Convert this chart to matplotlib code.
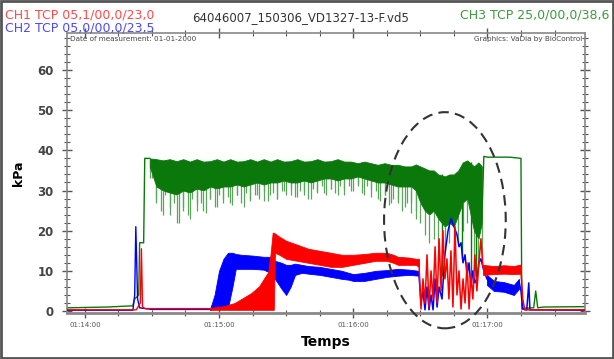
"""
Pressure record CH1/CH2/CH3 (kPa) vs time - recreation
"""

# ----------------------------------------------------------------------------------------------------------------------
# libraries
import matplotlib
matplotlib.use('Agg')
import matplotlib.pyplot as plt
from matplotlib.patches import Ellipse, Rectangle
from matplotlib.ticker import MultipleLocator, FuncFormatter
# ----------------------------------------------------------------------------------------------------------------------

# ----------------------------------------------------------------------------------------------------------------------
# data (time in seconds after 01:14:00, pressure in kPa)
title_text = '64046007_150306_VD1327-13-F.vd5'
ch_labels = ['CH1 TCP 05,1/00,0/23,0', 'CH2 TCP 05,0/00,0/23,5', 'CH3 TCP 25,0/00,0/38,6']

# CH3 (green) clean parts
green_t = [-8, 10, 21.4, 22.3, 24.1, 24.5, 26.3, 26.8, 29]
green_v = [0.8, 1.0, 1.3, 3, 4, 17, 17, 38, 38]
green_tail_t = [177.5, 178.4, 180, 190, 195, 195.4, 196, 200.7, 201.6, 202.5, 205, 223.7]
green_tail_v = [22, 38.5, 38.3, 38.3, 38, 0.5, 0.7, 0.8, 5, 0.8, 1.0, 1.1]
# CH3 noisy band envelope (dense core)
green_band_t = [29, 32, 35, 38, 41, 44, 47, 50, 53, 56,
                59, 62, 65, 68, 71, 74, 77, 80, 83, 86,
                89, 92, 95, 98, 101, 104, 107, 110, 113, 116,
                119, 122, 125, 128, 131, 134, 137, 140, 143, 146,
                148, 150, 152, 154, 156, 158, 161, 163, 165, 167,
                169, 171, 174, 176, 177.5]
green_band_hi = [38, 37.8, 37.5, 37.8, 37.3, 37.8, 37.2, 37.8, 37.2, 37.3,
                 37.8, 37.2, 37.8, 37.2, 37.3, 37.8, 37.2, 37.8, 37.2, 37.8,
                 37.2, 37.3, 37.8, 37.2, 37.3, 37.8, 37.2, 37.3, 37.8, 37.2,
                 37.2, 36.8, 37.2, 36.8, 36.4, 36.8, 36.4, 36.4, 36, 36,
                 36.5, 36, 35.5, 35, 35, 34, 33.5, 34, 34, 35,
                 37, 37.5, 36, 37, 36]
green_band_core = [36, 31, 30, 29.5, 29, 30, 29.5, 30.5, 30, 31,
                   30.5, 31, 31, 31.5, 31, 31.5, 32, 31.5, 32, 32,
                   32.5, 32, 32, 32.5, 32, 32.5, 33, 33, 32.5, 33,
                   33, 33.5, 33, 32.5, 32, 32, 31.5, 31, 31, 31,
                   30, 27, 25, 24, 25, 23, 21, 22, 21, 24,
                   27, 28, 20, 18, 22]
green_band_low = [33, 27, 24, 26, 22, 25, 23, 27, 25, 28,
                  26, 28, 27, 29, 26, 28, 29, 27.5, 29, 28,
                  30, 29, 28.5, 30, 28, 30, 29.5, 30.5, 29, 30.5,
                  30, 31, 29, 30.5, 28, 29, 27, 28, 26, 27,
                  25, 22, 19, 17, 18, 16, 15, 17, 14, 17,
                  20, 22, 12, 11, 13]
# CH3 individual downward spikes (lower end of each spike)
green_spike_t = [30, 32, 34, 36, 38, 40, 42, 44, 46, 48,
                 50, 52, 54, 56, 58, 60, 62, 64, 66, 68,
                 70, 72, 74, 76, 78, 80, 82, 84, 86, 88,
                 90, 92, 94, 96, 98, 100, 102, 104, 106, 108,
                 110, 112, 114, 116, 118, 120, 122, 124, 126, 128,
                 130, 132, 134, 136, 138, 140, 142, 144, 146, 148]
green_spike_lo = [33, 28, 25, 29, 24, 27, 22, 26, 24, 28,
                  25, 27, 24.5, 28, 26, 29, 27, 28.5, 26.5, 29,
                  27, 29.5, 27.5, 29, 28, 30, 27.5, 29.5, 28, 30,
                  29, 30.5, 28.5, 30, 29, 28, 30.5, 29.5, 31, 29,
                  30.5, 29.5, 31, 29, 31, 30, 31.5, 29.5, 31, 28.5,
                  30, 27.5, 29, 26.5, 28, 27, 25, 27, 24.5, 23]
green_dip_t = [159.7, 168.6, 172.6, 174.8]
green_dip_lo = [8.7, 13, 7, 8.7]
green_dip_hi = [34, 36, 37, 36]

# CH2 (blue)
blue_t = [-8, 21.5, 22.3, 22.8, 23.2, 23.6, 24.5, 30, 56]
blue_v = [0.2, 0.2, 4, 21, 12, 3, 0.8, 0.4, 0.4]
blue_band_t = [56, 58, 60, 62, 64, 66, 67.5, 70, 75, 80, 83, 85, 88, 90, 92, 94, 97, 100,
               105, 110, 115, 118, 120, 125, 130, 135, 140, 145, 149.4]
blue_band_lo = [0.3, 0.5, 0.5, 0.6, 0.8, 6, 10.5, 10.5, 10.5, 10.3, 9.5, 8, 5.5, 4, 6, 9, 9.5, 9.3,
                9, 8.5, 8, 7.8, 7.5, 7.5, 8, 8.5, 8.8, 9, 8.8]
blue_band_hi = [0.5, 4, 10, 13, 14.5, 14.5, 14.2, 14, 13.8, 13.5, 13.5, 12.5, 12, 11.5, 11.5, 11.8, 11.5, 11.2,
                11, 10.5, 10, 9.5, 9.2, 9.5, 10, 10.2, 10.5, 10.3, 10]
blue_trace_t = [149.4, 150.3, 151.2, 152.1, 153.0, 153.9, 154.8, 155.7, 156.6, 157.5, 158.4, 159.7, 161.0,
                162.4, 163.7, 165.1, 166.4, 167.3, 168.2, 169.1, 170.0, 170.9, 171.8, 172.6, 173.5, 174.4,
                175.3, 176.2, 177.1, 178.4, 179.8, 181.1, 182.9, 185.1, 187.4, 189.6, 191.8, 193.2, 194.1,
                195.0, 195.8, 197.6, 198.5, 199.0, 223.7]
blue_trace_v = [9, 2, 5, 0.3, 6, 0.3, 4, 0.3, 8, 1, 6, 3, 14,
                20, 23, 21, 19, 16, 17, 12, 14, 9, 12, 6, 10, 7,
                8, 12, 13, 10, 8, 7, 6, 5.5, 6, 5, 4.5, 6, 7.5,
                5, 0.5, 0.3, 7, 0.3, 0.2]
blue_post_t = [179.8, 182.9, 187.4, 191.8, 194.1]
blue_post_lo = [6.5, 5, 4.8, 4, 5.5]
blue_post_hi = [9, 7.5, 7.2, 6.5, 8]

# CH1 (red)
red_t = [-8, 23, 24.8, 25.3, 25.8, 27, 56]
red_v = [0.3, 0.3, 2, 15.5, 1, 0.6, 0.6]
red_band_t = [56, 62, 67, 70, 74.5, 78, 80, 82, 83, 84, 84.5, 85, 87, 90, 95, 100, 105, 110,
              115, 120, 125, 130, 135, 138, 140, 145, 148, 149.4]
red_band_lo = [0.3, 0.3, 0.3, 0.3, 0.3, 0.3, 0.3, 0.3, 0.3, 0.3, 0.3, 14.5, 14, 13, 12.5, 12, 11.5, 11,
               11, 11.5, 12, 12.5, 12.5, 12, 11.5, 11.5, 11.5, 11]
red_band_hi = [0.8, 1.2, 2, 3, 4.5, 6.2, 8, 9.7, 14, 19.5, 19.5, 19.3, 18.5, 17.5, 16.5, 15.5, 15, 14.5,
               14, 14, 14.2, 14.5, 14.5, 14, 13.5, 13.3, 13, 13]
red_trace_t = [149.4, 150.3, 151.2, 152.1, 153.0, 153.9, 154.8, 155.7, 156.6, 157.5, 158.4, 159.3, 160.1,
               161.0, 161.9, 162.8, 163.7, 164.6, 165.5, 166.4, 167.3, 168.2, 169.1, 170.0, 170.9, 171.8,
               172.6, 173.5, 174.4, 175.3, 176.2, 177.1, 178.0, 179.8, 182.9, 185.1, 189.6, 193.2, 195.0,
               195.8, 196.7, 223.7]
red_trace_v = [12, 0.5, 8, 2, 14, 1, 10, 3, 16, 2, 18, 5, 20,
               8, 13, 3, 15, 1, 21, 4, 10, 0.5, 8, 2, 12, 0.5,
               9, 3, 14, 5, 12, 18, 11, 10.5, 10, 10.5, 10, 10.5, 10,
               3, 0.3, 0.3]
red_post_t = [178.0, 182.9, 187.4, 191.8, 195.0]
red_post_lo = [9, 9.2, 9.3, 9.2, 9.3]
red_post_hi = [11.5, 11.2, 11.4, 11.2, 11.6]
# ----------------------------------------------------------------------------------------------------------------------

# ----------------------------------------------------------------------------------------------------------------------
# colors
col_red, col_blue, col_green = '#ff0000', '#0000ff', '#0b780b'
col_green_light = '#5aa55a'
# ----------------------------------------------------------------------------------------------------------------------


# ----------------------------------------------------------------------------------------------------------------------
# method to format time ticks
def fmt_time(value, pos):
    total = int(round(value)) + 14 * 60
    return '01:%02d:%02d' % (total // 60, total % 60)
# ----------------------------------------------------------------------------------------------------------------------


# ----------------------------------------------------------------------------------------------------------------------
# figure
fig = plt.figure(figsize=(6.14, 3.59), dpi=100)
ax = fig.add_axes([0.109, 0.128, 0.844, 0.78])

# CH3 green
ax.vlines(green_spike_t, green_spike_lo, 34, color=col_green_light, lw=0.9, zorder=2)
ax.vlines(green_band_t, green_band_low, green_band_core, color=col_green_light, lw=0.9, zorder=2)
ax.fill_between(green_band_t, green_band_core, green_band_hi, color=col_green, lw=0.6, zorder=2)
ax.vlines(green_dip_t, green_dip_lo, green_dip_hi, color=col_green, lw=1.0, zorder=2)
ax.plot(green_t, green_v, color=col_green, lw=1.0, zorder=2)
ax.plot(green_tail_t, green_tail_v, color=col_green, lw=1.0, zorder=2)

# CH2 blue
ax.plot(blue_t, blue_v, color=col_blue, lw=1.0, zorder=3)
ax.fill_between(blue_band_t, blue_band_lo, blue_band_hi, color=col_blue, lw=0.6, zorder=3)
ax.fill_between(blue_post_t, blue_post_lo, blue_post_hi, color=col_blue, lw=0.6, zorder=3)
ax.plot(blue_trace_t, blue_trace_v, color=col_blue, lw=1.1, zorder=3)

# CH1 red
ax.plot(red_t, red_v, color=col_red, lw=1.0, zorder=4)
ax.fill_between(red_band_t, red_band_lo, red_band_hi, color=col_red, lw=0.6, zorder=4)
ax.fill_between(red_post_t, red_post_lo, red_post_hi, color=col_red, lw=0.6, zorder=4)
ax.plot(red_trace_t, red_trace_v, color=col_red, lw=1.1, zorder=4)

# dashed ellipse
ell = Ellipse((161.0, 22.6), 54.4, 53.8, fill=False, ls=(0, (5, 3)), lw=1.5,
              edgecolor='#333333', clip_on=False, zorder=6)
ax.add_patch(ell)

# axes
ax.set_xlim(-8, 223.7)
ax.set_ylim(-0.5, 69.2)
ax.xaxis.set_major_locator(MultipleLocator(60))
ax.xaxis.set_minor_locator(MultipleLocator(15))
ax.xaxis.set_major_formatter(FuncFormatter(fmt_time))
ax.yaxis.set_major_locator(MultipleLocator(10))
ax.yaxis.set_minor_locator(MultipleLocator(2))
ax.tick_params(axis='x', which='major', direction='inout', length=7, width=1.0, color='#555555',
               labelsize=5, labelcolor='#555555', pad=3, top=True)
ax.tick_params(axis='x', which='minor', direction='inout', length=5, width=0.8, color='#555555', top=True)
ax.tick_params(axis='y', which='major', direction='inout', length=7, width=1.0, color='#555555',
               labelsize=8.5, labelcolor='#444444', pad=6, right=True)
ax.tick_params(axis='y', which='minor', direction='inout', length=4, width=0.8, color='#555555', right=True)
for lab in ax.get_yticklabels():
    lab.set_fontweight('bold')
for side in ['left', 'right', 'top', 'bottom']:
    ax.spines[side].set_color('#888888')
    ax.spines[side].set_linewidth(1.2)
ax.spines['bottom'].set_linewidth(2.0)

ax.set_ylabel('kPa', fontsize=9, fontweight='bold', labelpad=9)
ax.set_xlabel('Temps', fontsize=10, fontweight='bold', labelpad=5)

# inner annotations
ax.text(0.005, 0.99, 'Date of measurement: 01-01-2000', transform=ax.transAxes, fontsize=5.2,
        color='#444444', va='top', ha='left')
ax.text(0.995, 0.99, 'Graphics: VaDia by BioControl', transform=ax.transAxes, fontsize=5.2,
        color='#444444', va='top', ha='right')

# header texts
fig.text(0.008, 0.977, ch_labels[0], color='#ff4a4a', fontsize=9, va='top', ha='left')
fig.text(0.008, 0.94, ch_labels[1], color='#4a4aff', fontsize=9, va='top', ha='left')
fig.text(0.993, 0.977, ch_labels[2], color='#3f9a3f', fontsize=9, va='top', ha='right')
fig.text(0.49, 0.952, title_text, color='#333333', fontsize=8.5, va='center', ha='center')

# outer border
fig.patches.append(Rectangle((0.001, 0.002), 0.997, 0.995, transform=fig.transFigure, fill=False,
                             edgecolor='#555555', lw=2.0))

fig.savefig('out.png', dpi=100)
# ----------------------------------------------------------------------------------------------------------------------
